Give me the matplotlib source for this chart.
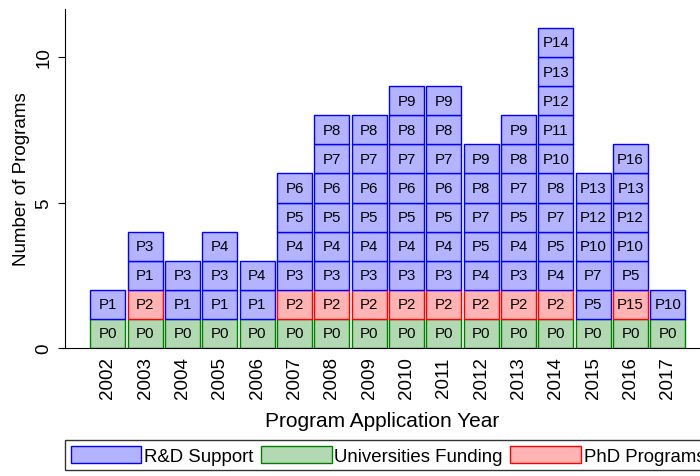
import matplotlib.pyplot as plt
from matplotlib.patches import Patch

plt.rcParams['font.family'] = ['Liberation Sans', 'DejaVu Sans']

years = [2002, 2003, 2004, 2005, 2006, 2007, 2008, 2009,
         2010, 2011, 2012, 2013, 2014, 2015, 2016, 2017]
# programs stacked bottom -> top for each year
stacks = [
    ['P0', 'P1'],
    ['P0', 'P2', 'P1', 'P3'],
    ['P0', 'P1', 'P3'],
    ['P0', 'P1', 'P3', 'P4'],
    ['P0', 'P1', 'P4'],
    ['P0', 'P2', 'P3', 'P4', 'P5', 'P6'],
    ['P0', 'P2', 'P3', 'P4', 'P5', 'P6', 'P7', 'P8'],
    ['P0', 'P2', 'P3', 'P4', 'P5', 'P6', 'P7', 'P8'],
    ['P0', 'P2', 'P3', 'P4', 'P5', 'P6', 'P7', 'P8', 'P9'],
    ['P0', 'P2', 'P3', 'P4', 'P5', 'P6', 'P7', 'P8', 'P9'],
    ['P0', 'P2', 'P4', 'P5', 'P7', 'P8', 'P9'],
    ['P0', 'P2', 'P3', 'P4', 'P5', 'P7', 'P8', 'P9'],
    ['P0', 'P2', 'P4', 'P5', 'P7', 'P8', 'P10', 'P11', 'P12', 'P13', 'P14'],
    ['P0', 'P5', 'P7', 'P10', 'P12', 'P13'],
    ['P0', 'P15', 'P5', 'P10', 'P12', 'P13', 'P16'],
    ['P0', 'P10'],
]
categories = ['R&D Support', 'Universities Funding', 'PhD Programs']
univ_programs = ['P0']
phd_programs = ['P2', 'P15']

styles = {
    'R&D Support': ('#b3b3ff', 'blue'),
    'Universities Funding': ('#b3d9b3', 'green'),
    'PhD Programs': ('#ffb3b3', 'red'),
}


def category(p):
    if p in univ_programs:
        return 'Universities Funding'
    if p in phd_programs:
        return 'PhD Programs'
    return 'R&D Support'


fig = plt.figure(figsize=(7, 4.77), dpi=100)
ax = fig.add_axes([65 / 700, 128 / 477, 635 / 700, 339 / 477])

for yr, progs in zip(years, stacks):
    for i, p in enumerate(progs):
        fc, ec = styles[category(p)]
        ax.bar(yr, 1, bottom=i, width=0.94, color=fc, edgecolor=ec, linewidth=1)
        ax.text(yr, i + 0.5, p, ha='center', va='center', fontsize=10.8)

ax.set_xlim(2000.85, 2017.86)
ax.set_ylim(0, 11.65)
ax.set_xticks(years)
ax.set_xticklabels([str(y) for y in years], rotation=90, fontsize=13.5)
ax.set_yticks([0, 5, 10])
ax.set_yticklabels(['0', '5', '10'], rotation=90, va='center', fontsize=13.5)
ax.tick_params(axis='x', length=0, pad=6)
ax.tick_params(axis='y', length=5, pad=4)
for s in ['top', 'right']:
    ax.spines[s].set_visible(False)

ax.set_xlabel('Program Application Year', fontsize=15, labelpad=9)
ax.set_ylabel('Number of Programs', fontsize=13.5)

handles = [Patch(facecolor=styles[c][0], edgecolor=styles[c][1]) for c in categories]
leg = fig.legend(handles, categories, loc='upper left',
                 bbox_to_anchor=(65 / 700, 1 - 441 / 477), ncol=3,
                 fontsize=13.4, frameon=True, fancybox=False,
                 handlelength=3.8, handleheight=1.1, handletextpad=0.15,
                 columnspacing=0.4, borderaxespad=0, borderpad=0.3)
leg.get_frame().set_edgecolor('black')

fig.savefig('out.png', dpi=100)
